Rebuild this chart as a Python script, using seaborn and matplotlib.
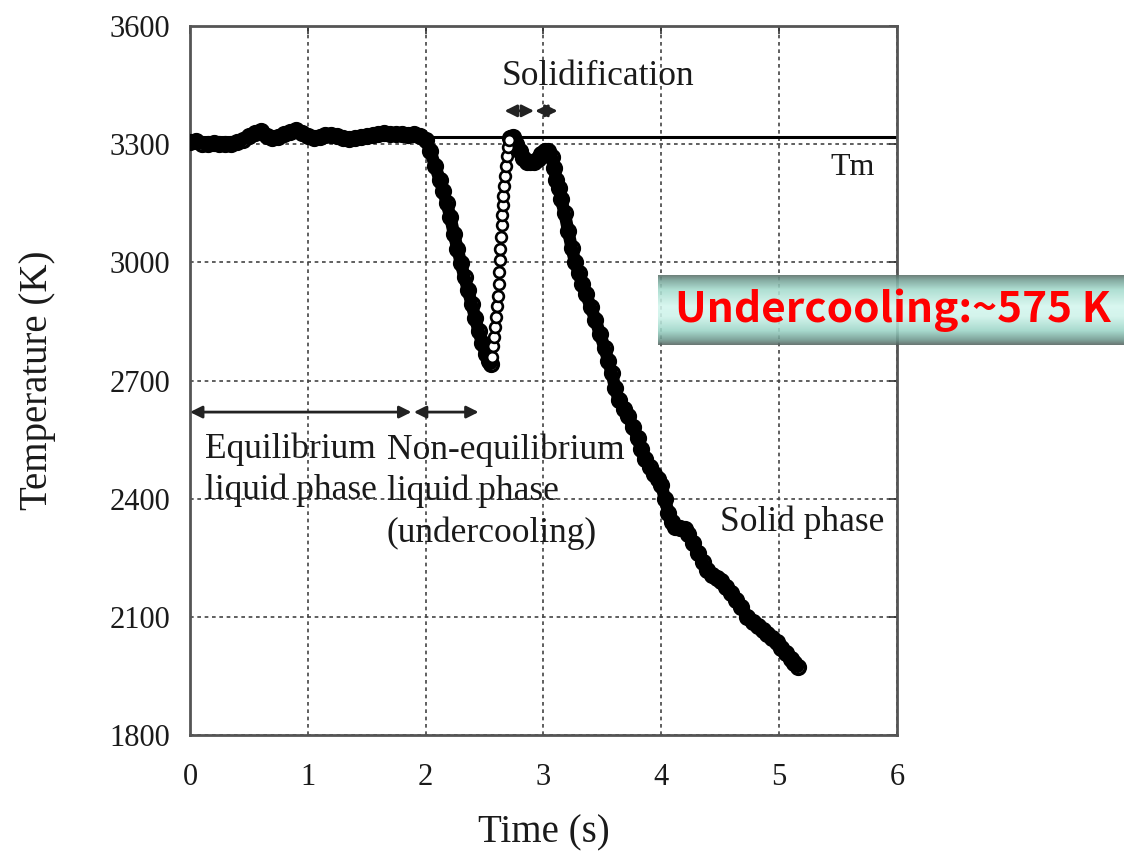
import numpy as np
import pandas as pd
import matplotlib
matplotlib.use("Agg")
import matplotlib.pyplot as plt
import seaborn as sns

# Temperature history of the levitated droplet: liquid, undercooled liquid and cooling solid
time_liquid = [0.00, 0.05, 0.10, 0.15, 0.20, 0.25, 0.30, 0.35, 0.40, 0.45, 0.50, 0.55,
               0.60, 0.65, 0.70, 0.75, 0.80, 0.85, 0.90, 0.95, 1.00, 1.05, 1.10, 1.15,
               1.20, 1.25, 1.30, 1.35, 1.40, 1.45, 1.50, 1.55, 1.60, 1.65, 1.70, 1.75,
               1.80, 1.85, 1.90, 1.95, 2.00, 2.04, 2.08, 2.12, 2.15, 2.18, 2.21, 2.24,
               2.27, 2.30, 2.33, 2.36, 2.39, 2.42, 2.45, 2.48, 2.51, 2.54, 2.555]
temp_liquid = [3305, 3308, 3302, 3300, 3303, 3300, 3302, 3300, 3305, 3312, 3322, 3330,
               3333, 3320, 3316, 3318, 3326, 3332, 3336, 3330, 3320, 3316, 3318, 3324,
               3324, 3322, 3316, 3314, 3315, 3318, 3322, 3324, 3326, 3328, 3326, 3326,
               3325, 3324, 3325, 3322, 3312, 3283, 3245, 3210, 3182, 3150, 3115, 3073,
               3035, 2998, 2962, 2930, 2895, 2860, 2825, 2795, 2768, 2750, 2743]

# Recalescence: fast rise back towards the melting point
time_recal = [2.56, 2.57, 2.58, 2.59, 2.60, 2.61, 2.615, 2.62, 2.625, 2.63, 2.635,
              2.64, 2.645, 2.65, 2.655, 2.66, 2.665, 2.67, 2.68, 2.69, 2.70, 2.71]
temp_recal = [2760, 2787, 2810, 2835, 2862, 2890, 2915, 2945, 2975, 3005, 3035,
              3065, 3095, 3120, 3145, 3170, 3195, 3220, 3245, 3270, 3292, 3310]

# Solidification plateau and cooling of the solid
time_solid = [2.72, 2.74, 2.77, 2.80, 2.83, 2.86, 2.89, 2.92, 2.95, 2.98, 3.01, 3.04,
              3.07, 3.09, 3.11, 3.13, 3.15, 3.18, 3.21, 3.24, 3.27, 3.30, 3.33, 3.36,
              3.40, 3.44, 3.48, 3.52, 3.55, 3.58, 3.61, 3.64, 3.68, 3.72, 3.76, 3.80,
              3.83, 3.86, 3.90, 3.94, 3.97, 4.00, 4.03, 4.06, 4.09, 4.12, 4.16, 4.20,
              4.23, 4.27, 4.31, 4.35, 4.39, 4.43, 4.47, 4.51, 4.55, 4.59, 4.63, 4.68,
              4.73, 4.78, 4.82, 4.86, 4.90, 4.94, 4.98, 5.02, 5.06, 5.10, 5.13, 5.16]
temp_solid = [3315, 3318, 3300, 3283, 3265, 3256, 3254, 3256, 3262, 3275, 3283, 3282,
              3268, 3240, 3210, 3190, 3160, 3125, 3080, 3036, 3000, 2973, 2945, 2920,
              2888, 2855, 2818, 2782, 2750, 2718, 2680, 2650, 2628, 2609, 2582, 2555,
              2525, 2500, 2480, 2464, 2450, 2436, 2400, 2364, 2340, 2328, 2326, 2322,
              2310, 2288, 2262, 2240, 2218, 2205, 2198, 2190, 2175, 2160, 2144, 2125,
              2100, 2088, 2076, 2066, 2057, 2046, 2035, 2022, 2008, 1994, 1982, 1973]

melting_point = 3318
x_ticks = [0, 1, 2, 3, 4, 5, 6]
y_ticks = [1800, 2100, 2400, 2700, 3000, 3300, 3600]

sns.set_theme(style="white")
serif = ["Liberation Serif", "DejaVu Serif"]
plt.rcParams["font.family"] = serif

fig = plt.figure(figsize=(11.24, 8.56), dpi=100)
ax = fig.add_axes([0.169, 0.1414, 0.629, 0.828])

liquid = pd.DataFrame({"time": time_liquid, "temp": temp_liquid})
recal = pd.DataFrame({"time": time_recal, "temp": temp_recal})
solid = pd.DataFrame({"time": time_solid, "temp": temp_solid})

ax.axhline(melting_point, color="black", lw=2.2, zorder=2)

band = dict(color="black", lw=9, marker="o", ms=10, mfc="none", mec="black",
            mew=2.4, estimator=None, sort=False, zorder=3)
sns.lineplot(data=liquid, x="time", y="temp", ax=ax, **band)
sns.lineplot(data=solid, x="time", y="temp", ax=ax, **band)
sns.scatterplot(data=recal, x="time", y="temp", ax=ax, s=60, facecolor="white",
                edgecolor="black", linewidth=1.9, zorder=4)

ax.set_xlim(0, 6)
ax.set_ylim(1800, 3600)
ax.set_xticks(x_ticks)
ax.set_yticks(y_ticks)
ax.grid(True, color="#444444", lw=1.2, linestyle=(0, (2.2, 2.2)))
ax.set_axisbelow(True)
for sp in ax.spines.values():
    sp.set_color("#555555")
    sp.set_linewidth(2.0)
ax.tick_params(direction="in", length=6, width=1.2, color="#333333",
               top=True, right=True, labelsize=22)
ax.tick_params(axis="x", pad=20)
ax.tick_params(axis="y", pad=14)
for lab in ax.get_xticklabels() + ax.get_yticklabels():
    lab.set_color("#1a1a1a")

ax.set_xlabel("Time (s)", fontsize=28, color="#1a1a1a")
ax.set_ylabel("Temperature (K)", fontsize=28, color="#1a1a1a")
ax.xaxis.set_label_coords(0.5, -0.112)
ax.yaxis.set_label_coords(-0.19, 0.5)

# Phase annotations
txt = dict(fontsize=25.5, color="#1a1a1a", family=serif)
ax.text(3.46, 3471, "Solidification", ha="center", va="center", **txt)
ax.text(5.62, 3240, "Tm", ha="center", va="center", fontsize=23,
        color="#1a1a1a", family=serif)
ax.text(0.13, 2474, "Equilibrium\nliquid phase", ha="left", va="center",
        linespacing=1.3, **txt)
ax.text(1.67, 2418, "Non-equilibrium\nliquid phase\n(undercooling)", ha="left",
        va="center", linespacing=1.3, **txt)
ax.text(4.5, 2339, "Solid phase", ha="left", va="center", **txt)

arrow = dict(arrowstyle="<|-|>", color="#222222", lw=2.0, mutation_scale=18,
             shrinkA=0, shrinkB=0)
for x0, x1, yv in [(0.0, 1.88, 2620), (1.90, 2.45, 2620),
                   (2.67, 2.92, 3385), (2.93, 3.12, 3385)]:
    ax.annotate("", xy=(x1, yv), xytext=(x0, yv), arrowprops=arrow, zorder=5)

# Highlight banner with a cylindrical teal shading
box = fig.add_axes([0.5854, 0.597, 0.4146, 0.082])
stops = np.array([0.0, 0.08, 0.22, 0.45, 0.6, 0.8, 0.93, 1.0])
cols = np.array([[0x55, 0x66, 0x61], [0x74, 0x9f, 0x94], [0xa5, 0xdb, 0xcd],
                 [0xd4, 0xf6, 0xee], [0xce, 0xf3, 0xea], [0x9c, 0xd5, 0xc7],
                 [0x6e, 0x98, 0x8e], [0x55, 0x64, 0x60]]) / 255.0
ys = np.linspace(0, 1, 120)
grad = np.stack([np.interp(ys, stops, cols[:, i]) for i in range(3)], axis=-1)
box.imshow(grad[:, None, :], aspect="auto", extent=[0, 1, 0, 1], alpha=0.88)
box.set_axis_off()
box.text(0.505, 0.5, "Undercooling:~575 K", ha="center", va="center",
         fontsize=30.5, fontweight="bold", color="#ff0000",
         family=["Noto Sans CJK KR", "DejaVu Sans"], transform=box.transAxes)

fig.savefig("out.png", dpi=100)
